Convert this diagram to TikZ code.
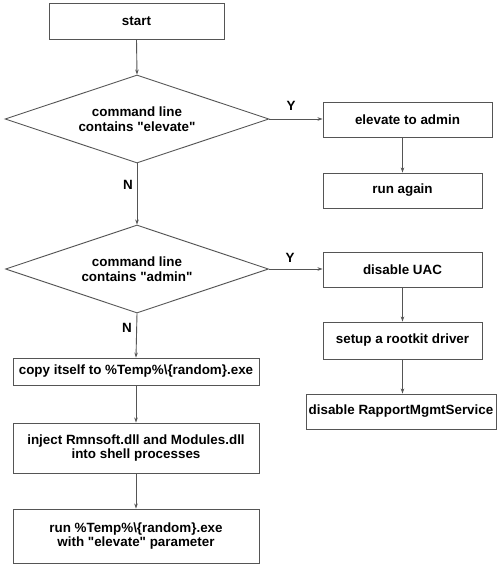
\documentclass[tikz,border=0pt]{standalone}
\usepackage{fontspec}
\newfontfamily\arialfont{Liberation Sans}
\usetikzlibrary{shapes.geometric,arrows.meta}
\definecolor{linegray}{RGB}{85,85,85}
\tikzset{
  box/.style={draw=linegray, line width=0.9pt, rectangle, inner sep=0pt, align=center,
    font=\arialfont\fontsize{13.4}{13.5}\selectfont\bfseries, text=black},
  dia/.style={draw=linegray, line width=0.9pt, diamond, aspect=3, inner sep=0pt, align=center,
    font=\arialfont\fontsize{13.4}{15}\selectfont\bfseries, text=black},
  conn/.style={draw=linegray, line width=0.9pt, -{Stealth[length=5pt,width=3.5pt]}},
  lbl/.style={font=\arialfont\fontsize{13.4}{15}\selectfont\bfseries, text=black, inner sep=0pt}
}
\begin{document}
\begin{tikzpicture}[x=1pt,y=-1pt]
\useasboundingbox (0,0) rectangle (500,565);
\fill[white] (0,0) rectangle (500,565);
\node[box, minimum width=175pt, minimum height=36pt] (start) at (136.5,21) {start};
\node[dia, minimum width=264pt, minimum height=88pt] (d1) at (137,119) {command line\\contains "elevate"};
\node[dia, minimum width=263pt, minimum height=88pt] (d2) at (137,269) {command line\\contains "admin"};
\node[box, minimum width=246pt, minimum height=27pt] (copy) at (136,371.5) {copy itself to \%Temp\%\textbackslash\{random\}.exe};
\node[box, minimum width=246pt, minimum height=50pt] (inject) at (136,448) {inject Rmnsoft.dll and Modules.dll\\into shell processes};
\node[box, minimum width=246pt, minimum height=54pt] (run) at (136,536) {run \%Temp\%\textbackslash\{random\}.exe\\with "elevate" parameter};
\node[box, minimum width=169pt, minimum height=35pt] (elev) at (407.5,119.5) {elevate to admin};
\node[box, minimum width=159pt, minimum height=35pt] (again) at (402.5,190.5) {run again};
\node[box, minimum width=159pt, minimum height=35pt] (uac) at (402.5,269.5) {disable UAC};
\node[box, minimum width=159pt, minimum height=37pt] (rootkit) at (402.5,340.5) {setup a rootkit driver};
\node[box, minimum width=190pt, minimum height=35pt] (rapport) at (401,411.5) {disable RapportMgmtService};

\draw[conn] (start.south) -- (d1.north);
\draw[conn] (d1.south) -- (d2.north);
\draw[conn] (d2.south) -- (copy.north);
\draw[conn] (copy.south) -- (inject.north);
\draw[conn] (inject.south) -- (run.north);
\draw[conn] (d1.east) -- (d1.east -| elev.west);
\draw[conn] (again.north |- elev.south) -- (again.north);
\draw[conn] (d2.east) -- (d2.east -| uac.west);
\draw[conn] (uac.south) -- (rootkit.north);
\draw[conn] (rootkit.south) -- (rootkit.south |- rapport.north);

\node[lbl] (n1) at (128,185) {N};
\node[lbl] (n2) at (127,328) {N};
\node[lbl] (y1) at (291,106) {Y};
\node[lbl] (y2) at (290,258) {Y};
\end{tikzpicture}
\end{document}
